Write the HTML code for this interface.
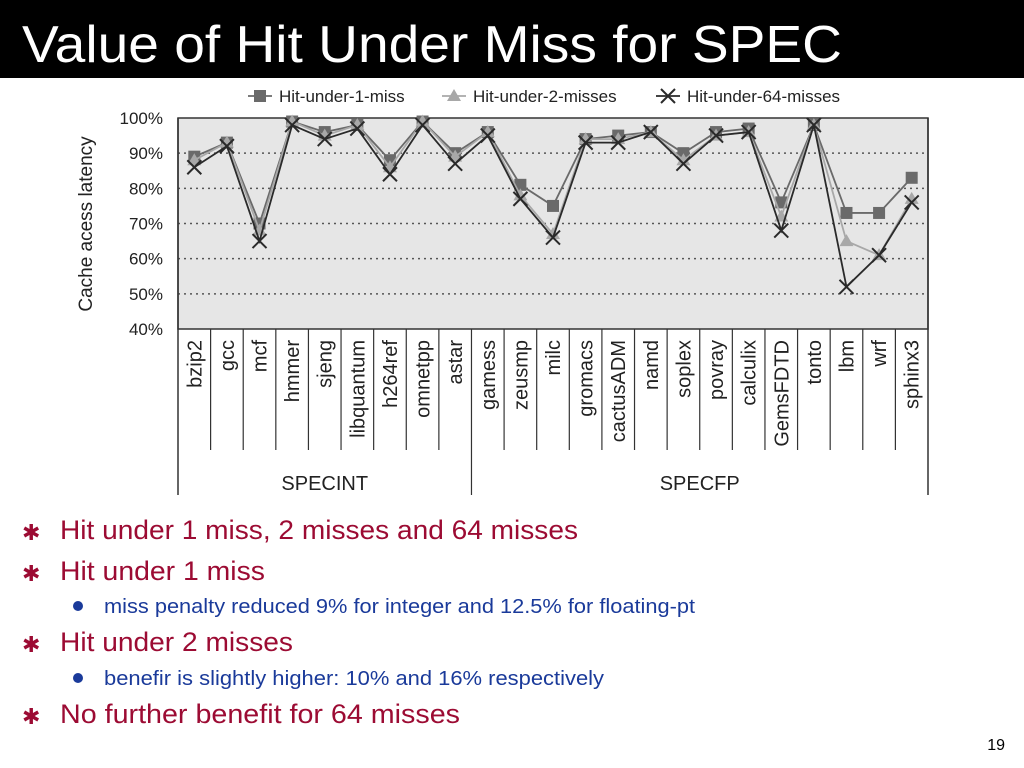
<!DOCTYPE html>
<html><head><meta charset="utf-8"><style>
body{margin:0;background:#fff;width:1024px;height:768px;overflow:hidden;}
svg{display:block;font-family:"Liberation Sans",Arial,sans-serif;}
</style></head><body>
<svg id="s" width="1024" height="768" viewBox="0 0 1024 768">
<rect x="0" y="0" width="1024" height="78" fill="#000"/>
<text x="22" y="62" font-size="52" fill="#fff" textLength="820" lengthAdjust="spacingAndGlyphs">Value of Hit Under Miss for SPEC</text>
<g id="chart"></g>
<g font-family="'Liberation Sans','DejaVu Sans',sans-serif">
<text x="22" y="540" font-size="22" fill="#9c0b33">✱</text>
<text x="60" y="539" font-size="27" fill="#9c0b33" textLength="518" lengthAdjust="spacingAndGlyphs">Hit under 1 miss, 2 misses and 64 misses</text>
<text x="22" y="581" font-size="22" fill="#9c0b33">✱</text>
<text x="60" y="580" font-size="27" fill="#9c0b33" textLength="205" lengthAdjust="spacingAndGlyphs">Hit under 1 miss</text>
<circle cx="78" cy="606" r="5" fill="#1a3a9a"/>
<text x="104" y="613" font-size="20" fill="#1a3a9a" textLength="591" lengthAdjust="spacingAndGlyphs">miss penalty reduced 9% for integer and 12.5% for floating-pt</text>
<text x="22" y="652" font-size="22" fill="#9c0b33">✱</text>
<text x="60" y="651" font-size="27" fill="#9c0b33" textLength="233" lengthAdjust="spacingAndGlyphs">Hit under 2 misses</text>
<circle cx="78" cy="678" r="5" fill="#1a3a9a"/>
<text x="104" y="685" font-size="20" fill="#1a3a9a" textLength="500" lengthAdjust="spacingAndGlyphs">benefir is slightly higher:  10% and 16% respectively</text>
<text x="22" y="724" font-size="22" fill="#9c0b33">✱</text>
<text x="60" y="723" font-size="27" fill="#9c0b33" textLength="400" lengthAdjust="spacingAndGlyphs">No further benefit for 64 misses</text>
</g>
<text x="1005" y="750" font-size="16" fill="#000" text-anchor="end">19</text>
</svg>
<script>
const categories=["bzip2","gcc","mcf","hmmer","sjeng","libquantum","h264ref","omnetpp","astar","gamess","zeusmp","milc","gromacs","cactusADM","namd","soplex","povray","calculix","GemsFDTD","tonto","lbm","wrf","sphinx3"];
const hit1=[89,93,70,99,96,98,88,99,90,96,81,75,94,95,96,90,96,97,76,98,73,73,83];
const hit2=[88,93,68,99,95,98,86,99,89,96,78,67,94,94,96,88,95,96,72,98,65,61,77];
const hit64=[86,92,65,98,94,97,84,98,87,95,77,66,93,93,96,87,95,96,68,98,52,61,76];
const yTicks=[40,50,60,70,80,90,100];
const groups=[["SPECINT",0,9],["SPECFP",9,23]];
const NS="http://www.w3.org/2000/svg";
const g=document.getElementById('chart');
const L=178,R=928,T=118,B=329,n=categories.length,cw=(R-L)/n;
const x=i=>L+cw*(i+0.5);
const y=v=>B-(v-40)/60*(B-T);
function mk(t,a,p){const e=document.createElementNS(NS,t);for(const k in a)e.setAttribute(k,a[k]);(p||g).appendChild(e);return e;}
let e=mk('rect',{x:L,y:T,width:R-L,height:B-T,fill:'#e6e6e6',stroke:'#333','stroke-width':1.5});


yTicks.forEach(v=>{
 if(v>40&&v<100){const l=mk('line',{x1:L,x2:R,y1:y(v),y2:y(v),stroke:'#555','stroke-dasharray':'2,4','stroke-width':1.5});
 
 }
 const t=mk('text',{x:163,y:y(v)+6,'font-size':17,'text-anchor':'end',fill:'#222'});
 
 
 t.textContent=v+'%';
});
const yt=mk('text',{x:0,y:0,'font-size':19,'text-anchor':'middle',fill:'#222',transform:'translate(92,224) rotate(-90)'});


yt.textContent='Cache acess latency';
mk('line',{x1:L,x2:L,y1:T,y2:495,stroke:'#333','stroke-width':1.5});
mk('line',{x1:R,x2:R,y1:T,y2:495,stroke:'#333','stroke-width':1.5});
for(let i=1;i<n;i++){const gx=L+cw*i;const full=groups.some(gr=>gr[1]===i);
 const l=mk('line',{x1:gx,x2:gx,y1:B,y2:full?495:450,stroke:'#333','stroke-width':1.2});
 
 }
categories.forEach((c,i)=>{const t=mk('text',{x:0,y:0,'font-size':20,'text-anchor':'end',fill:'#222',transform:`translate(${x(i)+7},340) rotate(-90)`});
 
 
 t.textContent=c;});
groups.forEach(gr=>{const cx=(L+cw*gr[1]+L+cw*gr[2])/2;const t=mk('text',{x:cx,y:490,'font-size':20,'text-anchor':'middle',fill:'#222'});
 
 
 t.textContent=gr[0];});
function series(vals,col,marker,name){
 const p=mk('polyline',{points:vals.map((v,i)=>x(i)+','+y(v)).join(' '),fill:'none',stroke:col,'stroke-width':1.8});
 
 
 vals.forEach((v,i)=>{const m=marker(x(i),y(v),col);
  
  });
}
const sq=(cx,cy,c)=>mk('rect',{x:cx-6,y:cy-6,width:12,height:12,fill:c});
const tri=(cx,cy,c)=>mk('polygon',{points:`${cx},${cy-7} ${cx-7},${cy+5} ${cx+7},${cy+5}`,fill:c});
const cr=(cx,cy,c)=>mk('path',{d:`M${cx-7},${cy-7}L${cx+7},${cy+7}M${cx+7},${cy-7}L${cx-7},${cy+7}`,stroke:c,'stroke-width':2,fill:'none'});
series(hit1,'#6a6a6a',sq,'hit-under-1-miss');
series(hit2,'#a8a8a8',tri,'hit-under-2-misses');
series(hit64,'#2a2a2a',cr,'hit-under-64-misses');
const leg=[['Hit-under-1-miss','#6a6a6a',sq,248],['Hit-under-2-misses','#a8a8a8',tri,442],['Hit-under-64-misses','#2a2a2a',cr,656]];
leg.forEach(l=>{const ly=96;mk('line',{x1:l[3],x2:l[3]+24,y1:ly,y2:ly,stroke:l[1],'stroke-width':1.8});
 l[2](l[3]+12,ly,l[1]);
 const t=mk('text',{x:l[3]+31,y:ly+6,'font-size':17,fill:'#222'});
 
 
 t.textContent=l[0];});
</script>
</body></html>
